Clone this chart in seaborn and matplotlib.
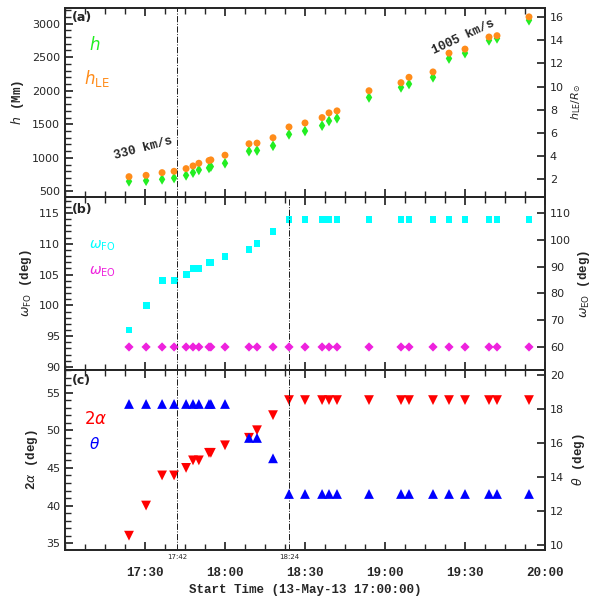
import matplotlib
matplotlib.use("Agg")
import matplotlib.pyplot as plt
import seaborn as sns
import numpy as np
import pandas as pd

sns.set_theme(style="ticks")
plt.rcParams['font.family'] = ['DejaVu Sans']

# minutes after 17:00
t_min = [24, 30.4, 36.4, 40.9, 45.4, 48, 50.2, 54, 54.7, 60, 69, 72, 78, 84, 90, 96.4, 99, 102,
         114, 126, 129, 138, 144, 150, 159, 162, 174]
h = [650, 660, 680, 700, 740, 780, 820, 850, 870, 920, 1100, 1110, 1180, 1350, 1400, 1480, 1550, 1590,
     1900, 2050, 2100, 2200, 2480, 2560, 2750, 2780, 3050]
h_le = [720, 740, 780, 800, 840, 880, 920, 960, 970, 1040, 1210, 1220, 1300, 1460, 1520, 1600, 1670, 1700,
        2000, 2120, 2200, 2280, 2560, 2620, 2800, 2820, 3100]
w_fo = [96, 100, 104, 104, 105, 106, 106, 107, 107, 108, 109, 110, 112, 114, 114, 114, 114, 114,
        114, 114, 114, 114, 114, 114, 114, 114, 114]
w_eo = [60] * 27
two_alpha = [36, 40, 44, 44, 45, 46, 46, 47, 47, 48, 49, 50, 52, 54, 54, 54, 54, 54,
             54, 54, 54, 54, 54, 54, 54, 54, 54]
theta = [18.3, 18.3, 18.3, 18.3, 18.3, 18.3, 18.3, 18.3, 18.3, 18.3, 16.3, 16.3, 15.1, 13, 13, 13, 13, 13,
         13, 13, 13, 13, 13, 13, 13, 13, 13]
xticks = [30, 60, 90, 120, 150, 180]
xticklabels = ["17:30", "18:00", "18:30", "19:00", "19:30", "20:00"]

df = pd.DataFrame(dict(t=t_min, h=h, hle=h_le, wfo=w_fo, weo=w_eo, a=two_alpha, th=theta))

fig = plt.figure(figsize=(5.98, 5.98), dpi=100)
L, R = 65/598, 545/598
W = R - L
def ax_at(top, bot):
    return fig.add_axes([L, 1 - bot/598, W, (bot - top)/598])
axa = ax_at(8, 197); axb = ax_at(197, 370); axc = ax_at(370, 550)
mono = dict(family='Liberation Mono', fontweight='bold', fontsize=9)
for ax in (axa, axb, axc):
    ax.set_xlim(0, 180)
    ax.set_xticks(xticks)
    ax.minorticks_on()
    ax.tick_params(which='both', direction='in', top=True, labelsize=8)
    ax.set_xticklabels([])
axc.set_xticklabels(xticklabels, fontsize=9, fontweight='bold', family='Liberation Mono')
axc.tick_params(axis='x', pad=12)
axc.set_xlabel("Start Time (13-May-13 17:00:00)", **mono)

# panel a
sns.scatterplot(data=df, x='t', y='h', ax=axa, marker='d', color='#22ee22', s=30, edgecolor='none', legend=False)
sns.scatterplot(data=df, x='t', y='hle', ax=axa, marker='o', color='#ff8c1a', s=25, edgecolor='none', legend=False)
axa.set_ylim(417, 3232)
axa.set_ylabel(r"$h$ (Mm)", **mono)
axa.set_xlabel("")
axa2 = axa.twinx(); axa2.set_ylim(0.44, 16.8)
axa2.set_yticks([2, 4, 6, 8, 10, 12, 14, 16])
axa2.tick_params(direction='in', labelsize=8)
axa2.set_ylabel(r"$h_{\rm LE}/R_{\odot}$", fontsize=8)
axa.text(0.015, 0.93, "(a)", transform=axa.transAxes, fontsize=9, fontweight='bold')
axa.text(0.05, 0.78, r"$h$", transform=axa.transAxes, color='#22ee22', fontsize=12)
axa.text(0.04, 0.6, r"$h_{\rm LE}$", transform=axa.transAxes, color='#ff8c1a', fontsize=12)
axa.text(0.1, 0.2, "330 km/s", transform=axa.transAxes, rotation=15, **mono)
axa.text(0.76, 0.76, "1005 km/s", transform=axa.transAxes, rotation=25, **mono)
axa.axvline(42, color='k', ls='-.', lw=0.7)

# panel b
sns.scatterplot(data=df, x='t', y='wfo', ax=axb, marker='s', color='cyan', s=25, edgecolor='none', legend=False)
axb.set_ylim(89.5, 117.6)
axb.set_yticks([90, 95, 100, 105, 110, 115])
axb.set_ylabel(r"$\omega_{\rm FO}$ (deg)", **mono)
axb.set_xlabel("")
axb2 = axb.twinx(); axb2.set_ylim(51.4, 116)
sns.scatterplot(data=df, x='t', y='weo', ax=axb2, marker='D', color='#ee22dd', s=22, edgecolor='none', legend=False)
axb2.set_ylabel(r"$\omega_{\rm EO}$ (deg)", **mono)
axb2.set_yticks([60, 70, 80, 90, 100, 110])
axb2.tick_params(direction='in', labelsize=8)
axb.text(0.015, 0.91, "(b)", transform=axb.transAxes, fontsize=9, fontweight='bold')
axb.text(0.05, 0.7, r"$\omega_{\rm FO}$", transform=axb.transAxes, color='cyan', fontsize=10)
axb.text(0.05, 0.55, r"$\omega_{\rm EO}$", transform=axb.transAxes, color='#ee22dd', fontsize=10)
axb.axvline(42, color='k', ls='-.', lw=0.7)
axb.axvline(84, color='k', ls='-.', lw=0.7)

# panel c
sns.scatterplot(data=df, x='t', y='a', ax=axc, marker='v', color='red', s=50, edgecolor='none', legend=False)
axc.set_ylim(34.1, 58.0)
axc.set_yticks([35, 40, 45, 50, 55])
axc.set_ylabel(r"2$\alpha$ (deg)", **mono)
axc2 = axc.twinx(); axc2.set_ylim(9.7, 20.3)
sns.scatterplot(data=df, x='t', y='th', ax=axc2, marker='^', color='blue', s=50, edgecolor='none', legend=False)
axc2.set_ylabel(r"$\theta$ (deg)", **mono)
axc2.set_yticks([10, 12, 14, 16, 18, 20])
axc2.tick_params(direction='in', labelsize=8)
axc.text(0.015, 0.92, "(c)", transform=axc.transAxes, fontsize=9, fontweight='bold')
axc.text(0.04, 0.7, r"2$\alpha$", transform=axc.transAxes, color='red', fontsize=12)
axc.text(0.05, 0.56, r"$\theta$", transform=axc.transAxes, color='blue', fontsize=11)
axc.axvline(42, color='k', ls='-.', lw=0.7)
axc.axvline(84, color='k', ls='-.', lw=0.7)
axc.text(42, -0.02, "17:42", transform=axc.get_xaxis_transform(), ha='center', va='top', fontsize=5)
axc.text(84, -0.02, "18:24", transform=axc.get_xaxis_transform(), ha='center', va='top', fontsize=5)

fig.savefig("out.png", dpi=100)
